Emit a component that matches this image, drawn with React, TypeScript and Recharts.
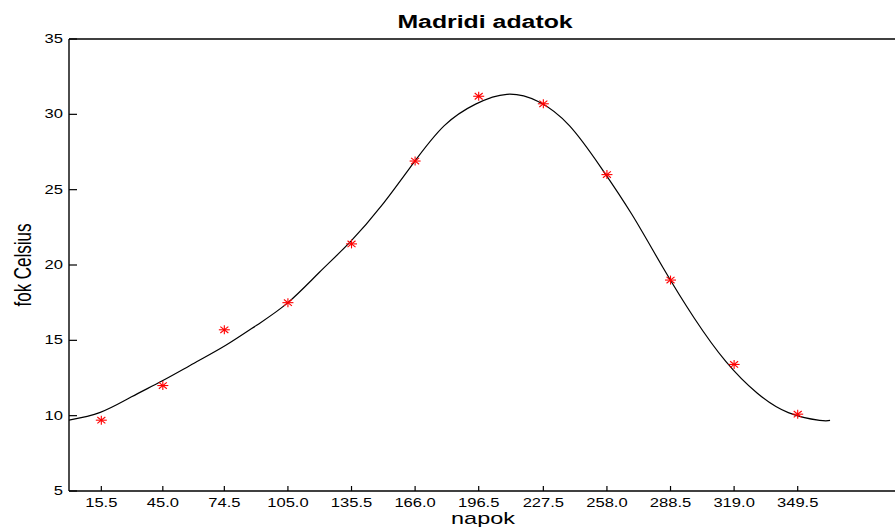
import React from 'react'
import { ComposedChart, Line, Scatter, XAxis, YAxis } from 'recharts'

// monthly mean temperatures, Madrid (day of year at mid-month)
const monthDays = [15.5, 45.0, 74.5, 105.0, 135.5, 166.0, 196.5, 227.5, 258.0, 288.5, 319.0, 349.5]
const avgTemps = [9.7, 12.0, 15.7, 17.5, 21.4, 26.9, 31.2, 30.7, 26.0, 19.0, 13.4, 10.1]
const xTickLabels = ['15.5', '45.0', '74.5', '105.0', '135.5', '166.0', '196.5', '227.5', '258.0', '288.5', '319.0', '349.5']

// fitted curve through the year, sampled every 15 days
const curveDays = [0, 15, 30, 45, 60, 75, 90, 105, 120, 135, 150, 165, 180, 195, 210, 225, 240, 255, 270, 285, 300, 315, 330, 345, 360, 365]
const curveTemps = [9.71, 10.22, 11.25, 12.33, 13.48, 14.65, 16.0, 17.5, 19.5, 21.55, 23.95, 26.73, 29.25, 30.68, 31.33, 30.85, 29.25, 26.5, 23.35, 19.8, 16.45, 13.6, 11.5, 10.2, 9.69, 9.69]

const yTicks = [5, 10, 15, 20, 25, 30, 35]

const points = monthDays.map((day, i) => ({ day, temp: avgTemps[i] }))
const curve = curveDays.map((day, i) => ({ day, temp: curveTemps[i] }))

const FONT = '"Liberation Sans", Arial, Helvetica, sans-serif'
const SX = 1.38

const BottomTick = ({ x, y, index }: any) => (
    <g>
        <line x1={x} y1={y} x2={x} y2={y - 5} stroke="#000" strokeWidth={1.2} />
        <text transform={`translate(${x},${y + 16}) scale(${SX},1)`} textAnchor="middle" fontSize={12} fontFamily={FONT} fill="#000">
            {xTickLabels[index]}
        </text>
    </g>
)

const TopTick = ({ x, y }: any) => (
    <line x1={x} y1={y} x2={x} y2={y + 5} stroke="#000" strokeWidth={1.2} />
)

const LeftTick = ({ x, y, payload }: any) => (
    <g>
        <line x1={x} y1={y} x2={x + 8} y2={y} stroke="#000" strokeWidth={1.2} />
        <text transform={`translate(${x - 6},${y + 4}) scale(${SX},1)`} textAnchor="end" fontSize={12} fontFamily={FONT} fill="#000">
            {payload.value}
        </text>
    </g>
)

const RightTick = ({ x, y }: any) => (
    <line x1={x} y1={y} x2={x - 9} y2={y} stroke="#000" strokeWidth={1.2} />
)

// matlab style '*' marker
const Star = ({ cx, cy }: any) => (
    <g stroke="#ff0000" strokeWidth={1.1}>
        <line x1={cx} y1={cy - 4.5} x2={cx} y2={cy + 4.5} />
        <line x1={cx - 5.5} y1={cy} x2={cx + 5.5} y2={cy} />
        <line x1={cx - 4} y1={cy - 3.2} x2={cx + 4} y2={cy + 3.2} />
        <line x1={cx - 4} y1={cy + 3.2} x2={cx + 4} y2={cy - 3.2} />
    </g>
)

const axisLine = { stroke: '#000', strokeWidth: 1.4 }

export default function App() {
    return (
        <div style={{ position: 'absolute', left: 0, top: 0, width: 895, height: 527, background: '#fff' }}>
            {/* axes take 1px each, so the plot box ends up at 69..903 x 39..491 */}
            <ComposedChart width={895} height={527} margin={{ top: 38, right: -9, left: 68, bottom: 35 }}>
                <XAxis
                    xAxisId="bottom"
                    dataKey="day"
                    type="number"
                    domain={[0, 400]}
                    ticks={monthDays}
                    interval={0}
                    height={1}
                    tickSize={0}
                    tickMargin={0}
                    tickLine={false}
                    axisLine={axisLine}
                    tick={<BottomTick />}
                />
                <XAxis
                    xAxisId="top"
                    orientation="top"
                    dataKey="day"
                    type="number"
                    domain={[0, 400]}
                    ticks={monthDays}
                    interval={0}
                    height={1}
                    tickSize={0}
                    tickMargin={0}
                    tickLine={false}
                    axisLine={axisLine}
                    tick={<TopTick />}
                />
                <YAxis
                    yAxisId="left"
                    type="number"
                    domain={[5, 35]}
                    ticks={yTicks}
                    interval={0}
                    width={1}
                    tickSize={0}
                    tickMargin={0}
                    tickLine={false}
                    axisLine={axisLine}
                    tick={<LeftTick />}
                />
                <YAxis
                    yAxisId="right"
                    orientation="right"
                    type="number"
                    domain={[5, 35]}
                    ticks={yTicks}
                    interval={0}
                    width={1}
                    tickSize={0}
                    tickMargin={0}
                    tickLine={false}
                    axisLine={axisLine}
                    tick={<RightTick />}
                />
                <Line
                    xAxisId="bottom"
                    yAxisId="left"
                    data={curve}
                    dataKey="temp"
                    type="natural"
                    stroke="#000"
                    strokeWidth={1.2}
                    dot={false}
                    activeDot={false}
                    isAnimationActive={false}
                />
                <Scatter
                    xAxisId="bottom"
                    yAxisId="left"
                    data={points}
                    dataKey="temp"
                    shape={<Star />}
                    isAnimationActive={false}
                />
            </ComposedChart>
            <svg width={895} height={527} style={{ position: 'absolute', left: 0, top: 0, pointerEvents: 'none' }}>
                <text transform={`translate(485,28) scale(${SX},1)`} textAnchor="middle" fontSize={18} fontWeight="bold" fontFamily={FONT} fill="#000">
                    Madridi adatok
                </text>
                <text transform={`translate(483,524) scale(${SX},1)`} textAnchor="middle" fontSize={17} fontFamily={FONT} fill="#000">
                    napok
                </text>
                <text transform={`translate(31,265) scale(${SX},1) rotate(-90)`} textAnchor="middle" fontSize={17} fontFamily={FONT} fill="#000">
                    fok Celsius
                </text>
            </svg>
        </div>
    )
}
